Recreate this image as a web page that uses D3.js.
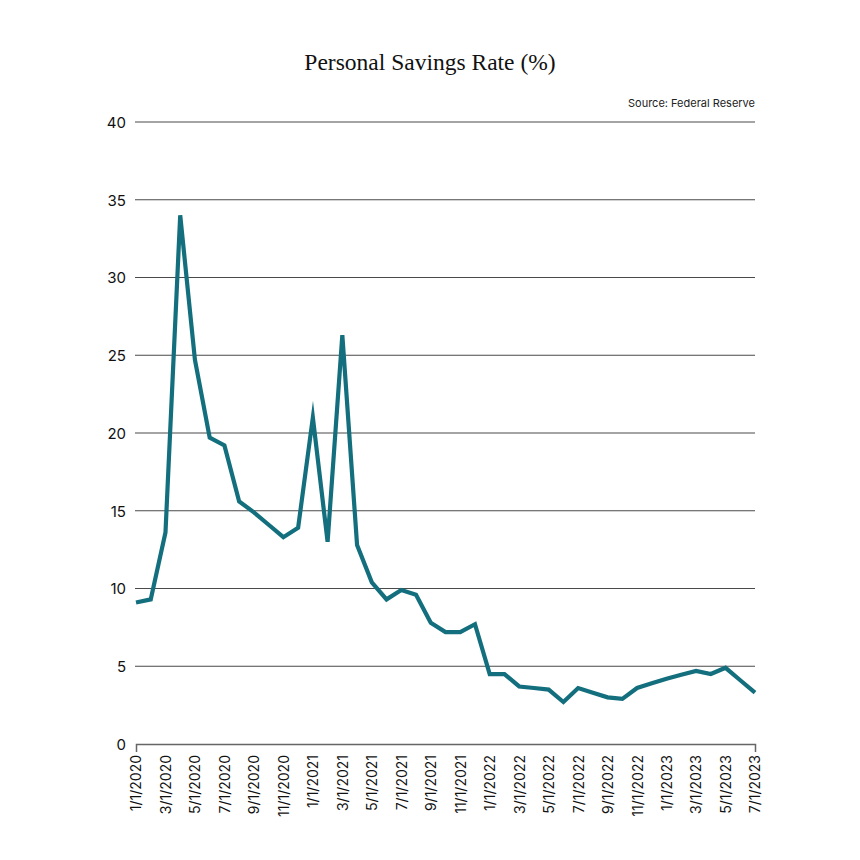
<!DOCTYPE html>
<html><head><meta charset="utf-8">
<script src="https://cdn.jsdelivr.net/npm/d3@7"></script>
<style>body{margin:0;background:#fff}</style>
</head><body>
<svg id="c" width="860" height="860"></svg>
<script>
const months = [
"1/1/2020","2/1/2020","3/1/2020","4/1/2020","5/1/2020","6/1/2020","7/1/2020","8/1/2020","9/1/2020","10/1/2020","11/1/2020","12/1/2020",
"1/1/2021","2/1/2021","3/1/2021","4/1/2021","5/1/2021","6/1/2021","7/1/2021","8/1/2021","9/1/2021","10/1/2021","11/1/2021","12/1/2021",
"1/1/2022","2/1/2022","3/1/2022","4/1/2022","5/1/2022","6/1/2022","7/1/2022","8/1/2022","9/1/2022","10/1/2022","11/1/2022","12/1/2022",
"1/1/2023","2/1/2023","3/1/2023","4/1/2023","5/1/2023","6/1/2023","7/1/2023"];
const savingsRate = [
9.1,9.3,13.6,34.0,24.7,19.7,19.2,15.6,14.9,14.1,13.3,13.9,
21.0,13.0,26.3,12.8,10.4,9.3,9.9,9.6,7.8,7.2,7.2,7.7,
4.5,4.5,3.7,3.6,3.5,2.7,3.6,3.3,3.0,2.9,3.6,3.9,
4.2,4.45,4.7,4.5,4.9,4.1,3.3];
const yTicks = [0,5,10,15,20,25,30,35,40];
const xTickLabels = months.filter((d,i)=>i%2===0);
const title = "Personal Savings Rate (%)";
const source = "Source: Federal Reserve";

const svg = d3.select("#c");
const L = 136, R = 755, T = 122, B = 744;
const x = d3.scalePoint().domain(months).range([L, R]);
const y = d3.scaleLinear().domain([0,40]).range([B, T]);

svg.append("text").attr("x",430).attr("y",70).attr("text-anchor","middle")
  .attr("font-family","'Liberation Serif', 'DejaVu Serif', serif").attr("font-size",23.5)
  .attr("fill","#111").text(title);
svg.append("text").attr("x",755).attr("y",107).attr("text-anchor","end")
  .attr("font-family","Inter, 'Noto Sans', sans-serif").attr("font-size",11)
  .attr("fill","#222").text(source);

// gridlines
svg.append("g").selectAll("line").data(yTicks.filter(d=>d>0)).join("line")
  .attr("x1",L-1).attr("x2",R).attr("y1",d=>y(d)).attr("y2",d=>y(d))
  .attr("stroke","#4a4a4a").attr("stroke-width",1.2);

// y labels
const yAxis = svg.append("g").attr("transform",`translate(${L-10},0)`)
  .call(d3.axisLeft(y).tickValues(yTicks).tickSize(0).tickPadding(0));
yAxis.select(".domain").remove();
yAxis.selectAll("text").attr("font-family","Inter, 'Noto Sans', sans-serif")
  .attr("font-size",15).attr("fill","#111").attr("dy","0.35em");

// x axis
const xAxis = svg.append("g").attr("transform",`translate(0,${B})`)
  .call(d3.axisBottom(x).tickValues(xTickLabels).tickSizeInner(0).tickSizeOuter(8).tickPadding(10));
xAxis.select(".domain").attr("stroke","#666").attr("stroke-width",1.5);
xAxis.selectAll("text").attr("font-family","Inter, 'Noto Sans', sans-serif")
  .attr("font-size",14).attr("fill","#111")
  .attr("transform","rotate(-90)").attr("text-anchor","end")
  .attr("x",-11).attr("y",0).attr("dy","0.35em");

// line
const line = d3.line().x((d,i)=>x(months[i])).y(d=>y(d));
svg.append("path").datum(savingsRate).attr("d",line)
  .attr("fill","none").attr("stroke","#136f7e").attr("stroke-width",4.2)
  .attr("stroke-linejoin","miter").attr("stroke-miterlimit",10);
</script>
</body></html>
